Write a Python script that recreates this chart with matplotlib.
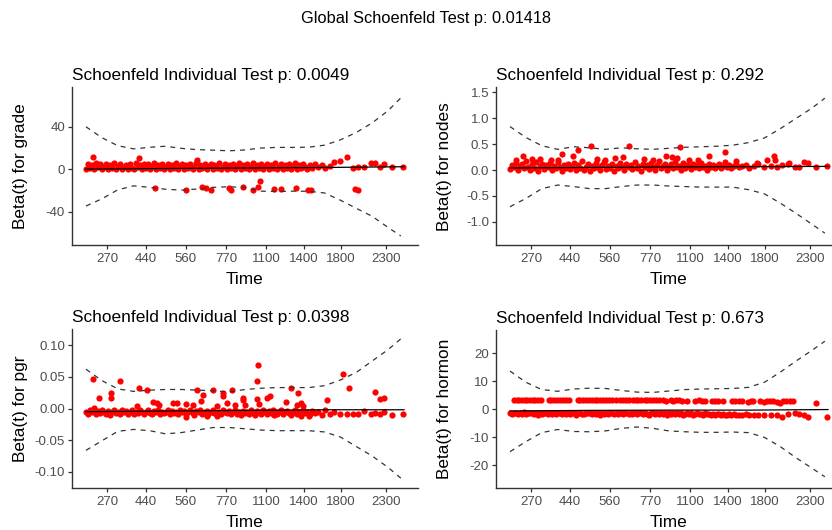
import numpy as np
import matplotlib
matplotlib.use("Agg")
import matplotlib.pyplot as plt

plt.rcParams['font.family'] = ['Liberation Sans', 'DejaVu Sans']

# transformed event times (0-100 = first..last event), shared by all four panels
event_x = [0.0, 0.6, 1.2, 1.8, 2.5, 3.1, 3.7, 4.3, 5.0, 5.6,
           6.2, 6.9, 7.5, 8.1, 8.8, 9.4, 10.0, 10.7, 11.3, 11.9,
           12.6, 13.2, 13.8, 14.5, 15.1, 15.7, 16.4, 17.0, 17.6, 18.3,
           18.9, 19.5, 20.2, 20.8, 21.4, 22.1, 22.7, 23.3, 24.0, 24.6,
           25.2, 25.9, 26.5, 27.1, 27.8, 28.4, 29.0, 29.7, 30.3, 30.9,
           31.6, 32.2, 32.8, 33.5, 34.1, 34.7, 35.4, 36.0, 36.6, 37.3,
           37.9, 38.5, 39.2, 39.8, 40.4, 41.1, 41.7, 42.3, 43.0, 43.6,
           44.2, 44.9, 45.5, 46.1, 46.8, 47.4, 48.0, 48.7, 49.3, 49.9,
           50.6, 51.2, 51.8, 52.5, 53.1, 53.7, 54.4, 55.0, 55.6, 56.3,
           56.9, 57.5, 58.2, 58.8, 59.4, 60.1, 60.7, 61.3, 62.0, 62.6,
           63.2, 63.9, 64.5, 65.1, 65.8, 66.4, 67.0, 67.7, 68.3, 68.9,
           69.6, 70.3, 71.1, 72.0, 73.0, 74.1, 75.3, 76.6, 78.0, 80.0,
           82.0, 84.0, 85.6, 87.5, 89.7, 91.0, 92.3, 93.8, 96.2, 99.7]

time_tick_pos = [6.6, 18.9, 31.4, 44.0, 56.6, 68.6, 80.2, 94.3]
time_tick_labels = ['270', '440', '560', '770', '1100', '1400', '1800', '2300']

# scaled Schoenfeld residuals per covariate
grade_y = [0, 5, 1, 4, 0, 6, 2, 5, 0, 3,
           5, 0, 4, 1, 6, 0, 3, 5, 0, 2,
           4, 0, 5, 1, 0, 6, 2, 4, 0, 5,
           1, 5, 0, 3, 6, 0, 4, 1, 5, 0,
           2, 5, 0, 4, 1, 6, 0, 3, 5, 0,
           4, 1, 5, 0, 2, 6, 0, 4, 1, 5,
           0, 3, 5, 0, 4, 1, 6, 0, 2, 5,
           0, 4, 1, 5, 0, 3, 6, 0, 4, 1,
           5, 0, 2, 6, 0, 4, 1, 5, 0, 3,
           5, 0, 4, 1, 6, 0, 2, 5, 0, 4,
           1, 5, 0, 3, 6, 0, 4, 1, 5, 2,
           0, 4, 1, 5, 2, 4, 1, 3, 6.7, 7.8,
           11, 1, 1.6, 1.6, 6, 5.3, 1.6, 4.7, 1.6, 1.6]
grade_extra_x = [2.3, 16.8, 35.0, 21.7, 31.3, 36.6, 37.6, 39.2, 44.9, 45.5, 49.5,
                 52.6, 54.2, 54.7, 59.1, 61.3, 66.0, 69.9, 70.7, 84.6, 85.6]
grade_extra_y = [11.5, 10.0, 8.5, -18.2, -19.8, -16.6, -18.2, -19.8, -18.2, -19.8, -16.6,
                 -19.8, -16.6, -11.0, -19.1, -19.1, -17.6, -19.8, -19.8, -19.1, -20.0]

nodes_y = [0.02, 0.10, 0.05, 0.14, 0.00, 0.08, 0.12, 0.03, 0.17, 0.06,
           0.01, 0.11, 0.04, 0.15, -0.02, 0.07, 0.12, 0.02, 0.09, 0.05,
           0.13, 0.00, 0.08, 0.03, 0.16, 0.05, -0.01, 0.10, 0.04, 0.12,
           0.02, 0.07, 0.14, 0.00, 0.09, 0.04, 0.18, 0.01, 0.06, 0.11,
           -0.02, 0.08, 0.03, 0.13, 0.05, 0.00, 0.10, 0.15, 0.02, 0.07,
           0.04, 0.12, -0.01, 0.08, 0.03, 0.14, 0.06, 0.00, 0.11, 0.05,
           0.09, 0.02, 0.16, 0.04, 0.07, -0.01, 0.12, 0.05, 0.10, 0.02,
           0.14, 0.06, 0.01, 0.09, 0.17, 0.03, 0.08, 0.12, 0.00, 0.06,
           0.11, 0.03, 0.15, 0.05, 0.08, 0.01, 0.13, 0.04, 0.10, 0.07,
           0.02, 0.12, 0.06, 0.09, 0.03, 0.14, 0.05, 0.08, 0.01, 0.11,
           0.06, 0.10, 0.03, 0.08, 0.12, 0.04, 0.07, 0.15, 0.05, 0.09,
           0.03, 0.08, 0.11, 0.05, 0.07, 0.10, 0.04, 0.08, 0.12, 0.06,
           0.07, 0.05, 0.09, 0.12, 0.06, 0.06, 0.15, 0.13, 0.06, 0.08]
nodes_extra_x = [2.0, 4.2, 6.8, 9.5, 12.9, 15.0, 16.3, 19.9, 21.4, 25.4,
                 27.5, 30.0, 33.0, 35.5, 37.4, 42.0, 45.0, 48.9, 51.0, 52.6,
                 53.6, 56.2, 59.0, 62.7, 67.7, 71.0, 77.6, 80.8, 82.9, 83.4, 87.6]
nodes_extra_y = [0.20, 0.28, 0.21, 0.22, 0.19, 0.20, 0.31, 0.27, 0.38, 0.46,
                 0.21, 0.20, 0.23, 0.25, 0.46, 0.21, 0.19, 0.27, 0.26, 0.23,
                 0.44, 0.19, 0.20, 0.27, 0.34, 0.18, 0.14, 0.19, 0.28, 0.19, 0.14]

pgr_y = [-0.005, -0.008, -0.003, -0.006, 0.001, -0.009, -0.004, -0.007, -0.002, -0.006,
         -0.008, -0.004, -0.010, -0.005, -0.002, -0.007, -0.005, -0.009, -0.003, -0.006,
         -0.004, -0.008, -0.006, -0.002, -0.009, -0.005, -0.007, -0.003, -0.006, -0.008,
         -0.005, -0.002, -0.007, -0.009, -0.004, -0.006, -0.003, -0.008, -0.005, -0.007,
         -0.006, -0.003, -0.009, -0.004, -0.007, -0.005, -0.008, -0.002, -0.006, -0.004,
         -0.008, -0.005, -0.003, -0.007, -0.010, -0.004, -0.006, -0.002, -0.008, -0.005,
         -0.004, -0.009, -0.006, -0.003, -0.007, -0.012, -0.005, -0.008, -0.003, -0.006,
         -0.007, -0.004, -0.009, -0.005, -0.002, -0.008, -0.006, -0.011, -0.004, -0.007,
         -0.005, -0.008, -0.003, -0.007, -0.010, -0.004, -0.006, -0.009, -0.002, -0.006,
         -0.008, -0.004, -0.007, -0.002, -0.006, -0.009, -0.005, -0.003, -0.008, -0.006,
         -0.004, -0.007, -0.010, -0.005, -0.002, -0.008, -0.006, -0.012, -0.003, -0.007,
         -0.006, -0.009, -0.004, -0.007, -0.005, -0.010, -0.003, -0.008, -0.006, -0.009,
         -0.008, -0.009, -0.008, -0.004, -0.008, -0.007, -0.009, -0.006, -0.010, -0.008]
pgr_extra_x = [2.3, 4.1, 7.8, 7.8, 10.7, 16.1, 16.8, 19.1, 21.2, 22.4,
               23.0, 27.3, 28.7, 31.4, 31.4, 33.5, 35.0, 36.3, 36.7, 38.0,
               40.0, 41.2, 43.0, 43.2, 44.2, 45.8, 47.0, 49.3, 49.5, 50.0,
               53.8, 53.9, 54.0, 54.5, 57.0, 57.9, 59.0, 62.9, 64.4, 66.5,
               66.8, 67.7, 68.3, 70.0, 75.7, 80.7, 82.8, 90.9, 92.5, 93.7]
pgr_extra_y = [0.046, 0.017, 0.025, 0.017, 0.043, 0.004, 0.033, 0.029, 0.010, 0.009,
               0.006, 0.009, 0.008, 0.007, -0.013, 0.005, 0.029, 0.012, 0.021, -0.012,
               0.029, 0.004, 0.025, 0.020, 0.008, 0.029, 0.005, 0.013, 0.017, 0.005,
               0.043, 0.015, 0.069, 0.007, 0.017, 0.019, -0.011, 0.010, 0.032, 0.006,
               0.024, 0.008, 0.004, -0.012, 0.014, 0.054, 0.033, 0.026, 0.015, 0.016]

hormon_y = [-1.4, -1.6, -1.2, -1.5, -1.8, -1.3, -1.6, -1.1, -1.7, -1.4,
            -1.5, -1.2, -1.7, -1.4, -1.9, -1.3, -1.6, -1.5, -1.2, -1.8,
            -1.3, -1.6, -1.4, -1.8, -1.2, -1.5, -1.7, -1.3, -1.6, -1.4,
            -1.7, -1.3, -1.5, -1.9, -1.4, -1.2, -1.6, -1.8, -1.3, -1.5,
            -1.4, -1.7, -1.2, -1.6, -1.5, -1.9, -1.3, -1.6, -1.4, -1.8,
            -1.2, -1.5, -1.7, -1.3, -1.6, -1.4, -1.8, -1.2, -1.5, -1.7,
            -1.4, -1.6, -1.3, -1.8, -1.5, -1.2, -1.7, -1.4, -1.6, -1.9,
            -1.3, -1.5, -1.8, -1.4, -1.6, -1.2, -1.7, -1.5, -1.9, -1.4,
            -1.6, -1.3, -1.8, -1.5, -1.7, -1.4, -2.0, -1.6, -1.3, -1.8,
            -1.5, -1.9, -1.6, -1.4, -1.8, -1.7, -2.0, -1.5, -1.8, -1.6,
            -1.9, -1.6, -2.1, -1.7, -1.8, -2.0, -1.6, -1.9, -2.2, -1.7,
            -2.0, -1.8, -2.1, -1.9, -2.2, -1.8, -2.0, -2.1, -1.9, -2.2,
            -1.9, -2.0, -2.6, -1.6, -1.4, -1.8, -2.2, -2.6, 2.1, -2.6]
hormon_extra_x = [1.3, 2.1, 2.9, 3.7, 4.6, 5.4, 6.2, 7.1, 7.9, 8.8, 9.7,
                  12.2, 13.0, 13.9, 14.8, 15.7, 16.6, 17.5, 18.5,
                  21.3, 22.1, 23.0, 23.9, 24.8, 25.7, 26.6, 27.5, 28.4, 29.3, 30.2, 31.1, 32.1, 33.2,
                  34.5, 35.4, 36.4, 37.5, 38.6,
                  39.5, 40.4, 41.3, 42.3, 43.2, 44.1, 45.1, 46.0, 47.0, 48.0, 48.9,
                  50.5, 51.4, 52.3, 53.2, 54.2,
                  55.8,
                  58.3, 59.4, 60.5, 61.4,
                  63.6, 64.5, 65.5, 67.1,
                  69.9, 70.9, 72.0, 73.0,
                  74.9, 75.7, 76.5,
                  78.7, 79.8, 80.9,
                  81.8, 82.8, 83.9, 84.9,
                  85.9, 86.9, 88.0, 89.0]
hormon_extra_y = [3.3, 3.4, 3.2, 3.3, 3.4, 3.3, 3.2, 3.3, 3.4, 3.3, 3.2,
                  3.3, 3.2, 3.4, 3.3, 3.3, 3.2, 3.4, 3.3,
                  3.3, 3.4, 3.2, 3.3, 3.3, 3.4, 3.2, 3.3, 3.4, 3.3, 3.2, 3.3, 3.4, 3.3,
                  3.2, 3.3, 3.4, 3.3, 3.2,
                  3.3, 3.2, 3.4, 3.3, 3.2, 3.3, 3.4, 3.3, 3.2, 3.3, 3.1,
                  3.2, 3.1, 3.3, 3.2, 3.0,
                  3.1,
                  3.0, 3.2, 3.1, 2.9,
                  3.1, 2.9, 3.0, 3.1,
                  2.8, 3.0, 3.1, 2.9,
                  2.7, 3.0, 2.8,
                  2.9, 2.7, 3.0,
                  2.8, 2.9, 2.6, 2.2,
                  2.8, 2.9, 2.8, 2.9]

# smoothed beta(t) and its confidence band
fit_x = [0, 25, 50, 75, 100]
grade_fit = [0.0, 0.5, 1.0, 1.5, 2.2]
nodes_fit = [0.04, 0.05, 0.06, 0.065, 0.07]
pgr_fit = [-0.005, -0.004, -0.003, -0.002, -0.002]
hormon_fit = [-0.6, -0.4, -0.3, -0.3, -0.1]

ci_x = [0, 5, 10, 15, 20, 25, 30, 35, 40, 45, 50, 55, 60, 65, 70, 75, 80, 85, 90, 95, 99]
grade_hi = [39.8, 29.5, 22.0, 19.0, 20.5, 21.5, 19.5, 18.3, 17.8, 17.2, 18.0,
            19.8, 20.4, 20.4, 20.6, 22.5, 27.5, 34.5, 43.5, 55.0, 67.0]
grade_lo = [-34.8, -28.0, -19.5, -15.8, -17.2, -19.0, -19.8, -18.8, -17.2, -16.6, -17.5,
            -20.8, -21.2, -20.8, -20.9, -22.5, -29.3, -37.0, -44.5, -55.0, -63.0]
nodes_hi = [0.84, 0.63, 0.47, 0.40, 0.45, 0.43, 0.40, 0.43, 0.41, 0.40, 0.42,
            0.44, 0.45, 0.46, 0.48, 0.53, 0.62, 0.80, 1.00, 1.20, 1.39]
nodes_lo = [-0.71, -0.55, -0.36, -0.29, -0.32, -0.36, -0.36, -0.32, -0.29, -0.29, -0.31,
            -0.32, -0.33, -0.33, -0.33, -0.38, -0.46, -0.64, -0.84, -1.05, -1.22]
pgr_hi = [0.062, 0.044, 0.031, 0.027, 0.029, 0.030, 0.030, 0.029, 0.028, 0.026, 0.030,
          0.032, 0.033, 0.033, 0.033, 0.036, 0.045, 0.057, 0.075, 0.093, 0.110]
pgr_lo = [-0.066, -0.051, -0.036, -0.033, -0.035, -0.040, -0.038, -0.034, -0.030, -0.030, -0.032,
          -0.034, -0.035, -0.035, -0.035, -0.037, -0.045, -0.060, -0.075, -0.093, -0.110]
hormon_hi = [13.6, 9.6, 7.0, 6.4, 7.2, 7.5, 7.4, 6.7, 6.1, 6.0, 6.5,
             7.0, 7.2, 7.3, 7.4, 7.8, 9.6, 13.2, 17.2, 21.0, 24.2]
hormon_lo = [-15.1, -11.5, -8.3, -7.2, -7.9, -8.0, -7.7, -6.8, -6.3, -6.8, -7.7,
             -8.0, -8.2, -8.2, -8.1, -8.3, -10.0, -13.3, -17.3, -21.0, -24.0]

W, H = 832, 530
fig = plt.figure(figsize=(W / 100, H / 100), dpi=100)
fig.text(426 / W, 1 - 18 / H, 'Global Schoenfeld Test p: 0.01418',
         ha='center', va='center', fontsize=11.8)

panels = [
    # left, top, bottom (pixels), residuals, extras, fit, band, label, p, ticks, ylim
    (72, 87.3, 245, grade_y, grade_extra_x, grade_extra_y, grade_fit, grade_hi, grade_lo,
     'Beta(t) for grade', '0.0049', [-40, 0, 40], ['-40', '0', '40'], (-71.5, 77)),
    (496, 87.3, 245, nodes_y, nodes_extra_x, nodes_extra_y, nodes_fit, nodes_hi, nodes_lo,
     'Beta(t) for nodes', '0.292', [-1.0, -0.5, 0.0, 0.5, 1.0, 1.5],
     ['-1.0', '-0.5', '0.0', '0.5', '1.0', '1.5'], (-1.45, 1.60)),
    (72, 329.3, 487.7, pgr_y, pgr_extra_x, pgr_extra_y, pgr_fit, pgr_hi, pgr_lo,
     'Beta(t) for pgr', '0.0398', [-0.10, -0.05, 0.00, 0.05, 0.10],
     ['-0.10', '-0.05', '0.00', '0.05', '0.10'], (-0.125, 0.125)),
    (496, 330, 487.7, hormon_y, hormon_extra_x, hormon_extra_y, hormon_fit, hormon_hi, hormon_lo,
     'Beta(t) for hormon', '0.673', [-20, -10, 0, 10, 20], ['-20', '-10', '0', '10', '20'],
     (-27.9, 28.2)),
]

for (left, top, bottom, res_y, ex_x, ex_y, fit, hi, lo,
     ylabel, pval, yticks, ytl, ylim) in panels:
    ax = fig.add_axes([left / W, 1 - bottom / H, 346 / W, (bottom - top) / H])
    ax.scatter(event_x, res_y, s=20, c='#FF0000', linewidths=0, zorder=2)
    ax.scatter(ex_x, ex_y, s=20, c='#FF0000', linewidths=0, zorder=2)
    ax.plot(fit_x, fit, color='black', lw=0.9, zorder=3)
    ax.plot(ci_x, hi, color='#333333', lw=0.9, ls=(0, (4, 4)), zorder=3)
    ax.plot(ci_x, lo, color='#333333', lw=0.9, ls=(0, (4, 4)), zorder=3)

    ax.set_xlim(-4.4, 104.4)
    ax.set_ylim(*ylim)
    ax.set_xticks(time_tick_pos)
    ax.set_xticklabels(time_tick_labels)
    ax.set_yticks(yticks)
    ax.set_yticklabels(ytl)
    for s in ['top', 'right']:
        ax.spines[s].set_visible(False)
    for s in ['left', 'bottom']:
        ax.spines[s].set_color('#333333')
        ax.spines[s].set_linewidth(1.0)
    ax.tick_params(labelsize=9.5, labelcolor='#4D4D4D', color='#333333',
                   length=3, width=0.9)
    ax.tick_params(axis='x', pad=3)
    ax.tick_params(axis='y', pad=2)

    ax.set_xlabel('Time', fontsize=12.4)
    ax.xaxis.set_label_coords(0.5, -0.172)
    ax.set_ylabel(ylabel, fontsize=12.4)
    ax.yaxis.set_label_coords(-0.127, 0.5)
    ax.set_title('Schoenfeld Individual Test p: ' + pval, loc='left',
                 fontsize=12.4, pad=5)

fig.savefig('out.png', dpi=100)
